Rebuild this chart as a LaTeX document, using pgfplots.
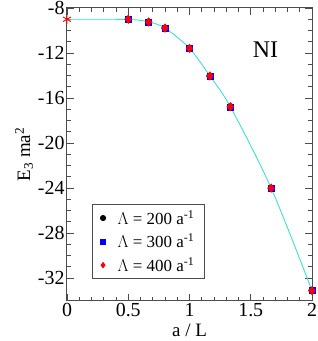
\documentclass[border=0pt]{standalone}
\usepackage{fontspec}
\setmainfont{Liberation Serif}
\usepackage{pgfplots}
\pgfplotsset{compat=1.18}
\definecolor{turq}{RGB}{64,224,208}
\begin{document}
\begin{tikzpicture}
\useasboundingbox (-67bp,-40.3bp) rectangle (251bp,300.7bp);
\begin{axis}[
  scale only axis,
  width=245bp, height=292.7bp,
  xmin=0, xmax=2, ymin=-34, ymax=-8,
  xtick={0,0.5,1,1.5,2},
  xticklabels={0,0.5,1,1.5,2},
  minor x tick num=4,
  ytick={-32,-28,-24,-20,-16,-12,-8},
  yticklabels={-32,-28,-24,-20,-16,-12,-8},
  minor y tick num=3,
  tick align=inside,
  major tick length=7bp, minor tick length=4bp,
  axis line style={black!70, line width=1bp},
  every tick/.style={black!70, line width=0.9bp},
  tick label style={font=\fontsize{20}{22}\selectfont},
  xticklabel style={yshift=1bp},
  yticklabel style={xshift=1bp},
  xlabel={a / L},
  xlabel style={font=\fontsize{19}{21}\selectfont, yshift=-0.5bp},
  ylabel={E\textsubscript{3} ma\textsuperscript{2}},
  ylabel style={font=\fontsize{19}{21}\selectfont, yshift=-2bp},
  legend style={at={(0.102,0.331)}, anchor=north west, draw=black!70, line width=0.9bp,
    font=\fontsize{17}{19}\selectfont, row sep=4bp, inner xsep=8bp, inner ysep=4bp,
    /tikz/every odd column/.append style={column sep=10bp}},
  legend cell align=left,
  legend image post style={mark size=2.6bp},
]
\addplot[turq, line width=0.9bp, smooth, tension=0.5, forget plot] coordinates {
(0,-9.0) (0.5,-9.02) (0.6667,-9.24) (0.8,-9.78) (1.0,-11.58) (1.1667,-14.04) (1.3333,-16.77) (1.6667,-24.0) (2.0,-33.1)};
\addplot[only marks, mark=*, mark size=3.4bp, black] coordinates {
(0.5,-9.0) (0.6667,-9.24) (0.8,-9.78) (1.0,-11.58) (1.1667,-14.04) (1.3333,-16.77) (1.6667,-24.0) (2.0,-33.1)};
\addlegendentry{$\Lambda$ = 200 a\textsuperscript{-1}}
\addplot[only marks, mark=square*, mark size=3bp, blue] coordinates {
(0.5,-9.0) (0.6667,-9.24) (0.8,-9.78) (1.0,-11.58) (1.1667,-14.04) (1.3333,-16.77) (1.6667,-24.0) (2.0,-33.1)};
\addlegendentry{$\Lambda$ = 300 a\textsuperscript{-1}}
\addplot[only marks, mark=diamond*, mark size=4.3bp, red] coordinates {
(0.5,-9.0) (0.6667,-9.24) (0.8,-9.78) (1.0,-11.58) (1.1667,-14.04) (1.3333,-16.77) (1.6667,-24.0) (2.0,-33.1)};
\addlegendentry{$\Lambda$ = 400 a\textsuperscript{-1}}
\addplot[only marks, mark=asterisk, mark size=4.5bp, red, line width=0.9bp, forget plot] coordinates {(0,-9.0)};
\node[font=\fontsize{24}{26}\selectfont, anchor=center] at (axis cs:1.62,-11.7) {NI};
\end{axis}
\end{tikzpicture}
\end{document}
